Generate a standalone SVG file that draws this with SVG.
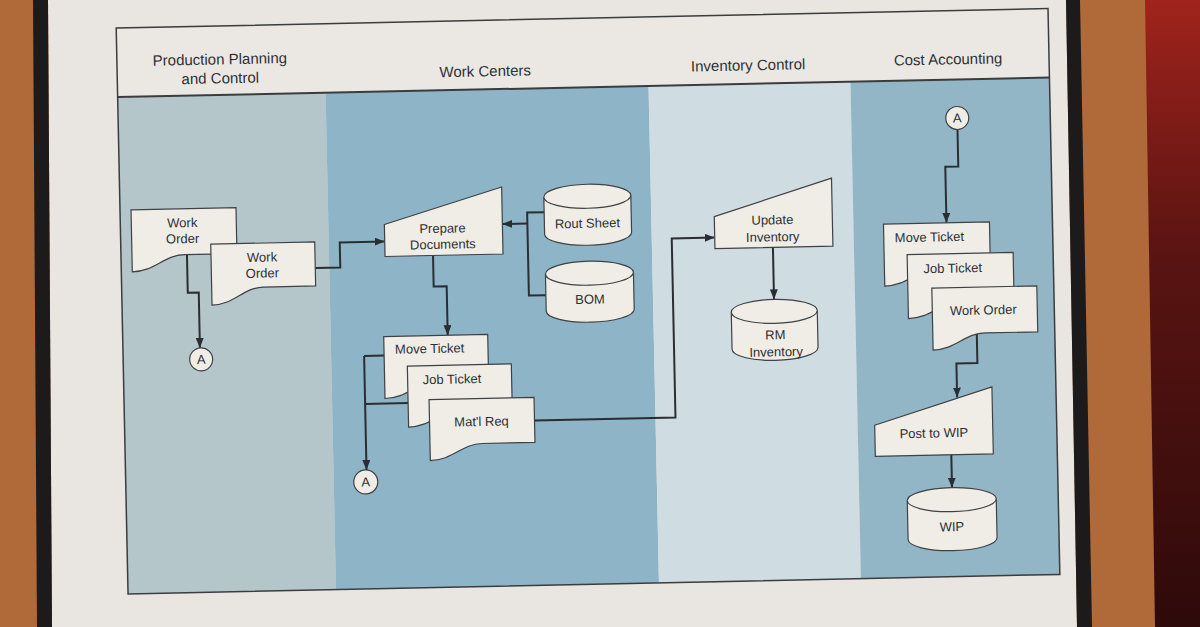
<svg xmlns="http://www.w3.org/2000/svg" width="1200" height="627" viewBox="0 0 1200 627">
<defs>
<marker id="arr" markerUnits="userSpaceOnUse" markerWidth="10" markerHeight="8" refX="10" refY="4" orient="auto">
<path d="M0,0 L10,4 L0,8 Z" fill="#2a2e33"/>
</marker>
<linearGradient id="red" x1="0" y1="0" x2="0" y2="1">
<stop offset="0" stop-color="#a0231c"/>
<stop offset="0.4" stop-color="#5a1412"/>
<stop offset="1" stop-color="#2e0a0a"/>
</linearGradient>
<style>
.node{fill:#efede6;stroke:#3e4246;stroke-width:1.2}
.lbl{font-family:"Liberation Sans",Arial,sans-serif;font-size:13px;fill:#2e3034;text-anchor:middle}
.st{text-anchor:start}
.hdr{font-family:"Liberation Sans",Arial,sans-serif;font-size:15px;fill:#2e3034;text-anchor:middle}
.con{fill:none;stroke:#2a2e33;stroke-width:2}
.arrow{marker-end:url(#arr)}
</style>
</defs>
<!-- background scene -->
<rect x="0" y="0" width="1200" height="627" fill="#b06a3a"/>
<polygon points="1145,0 1200,0 1200,627 1155,627" fill="url(#red)"/>
<polygon points="48,0 1066,0 1077,627 52,627" fill="#e9e6e2"/>
<polygon points="33,0 48,0 52,627 37,627" fill="#1c1a1a"/>
<polygon points="1066,0 1080,0 1092,627 1077,627" fill="#1c1a1a"/>
<g id="diagram" transform="rotate(-1.2 600 300)">
<g id="lanes">
<rect x="122" y="18" width="932" height="69" fill="#ebe8e4"/>
<rect x="122" y="87" width="208" height="497" fill="#b5c6cb"/>
<rect x="330" y="87" width="323" height="497" fill="#8eb4c7"/>
<rect x="653" y="87" width="202" height="497" fill="#cfdce1"/>
<rect x="855" y="87" width="199" height="497" fill="#93b6c6"/>
<rect x="122" y="18" width="932" height="566" fill="none" stroke="#3a3c3e" stroke-width="1.5"/>
<line x1="122" y1="87" x2="1054" y2="87" stroke="#3a3c3e" stroke-width="2"/>
<text class="hdr" x="225" y="56.5">Production Planning</text>
<text class="hdr" x="225" y="75.5">and Control</text>
<text class="hdr" x="490" y="74">Work Centers</text>
<text class="hdr" x="753" y="73.5">Inventory Control</text>
<text class="hdr" x="953" y="71.8">Cost Accounting</text>
</g>
<g id="connectors">
<path class="con arrow" d="M188,246 V284 H199 V339.5"/>
<path class="con arrow" d="M316,262 H341 V237 H386"/>
<path class="con arrow" d="M434,252 V283 H447 V332"/>
<path class="con" d="M546,211 H529 V294 H546"/>
<path class="con arrow" d="M529,222 H504"/>
<path class="con arrow" d="M532,419 H673 V240 H716"/>
<path class="con arrow" d="M774,251 V303"/>
<path class="con" d="M383,351 H363"/>
<path class="con" d="M406,399 H363"/>
<path class="con arrow" d="M363,351 V465"/>
<path class="con arrow" d="M961,137 V174 H948 V230"/>
<path class="con arrow" d="M976,342 V371 H955 V405"/>
<path class="con arrow" d="M948,462 V495"/>
</g>
<g id="ppc-work-order-1">
<path class="node" d="M133,200 H238 V246 H185.5 C164.5,246 156,262 133,262 Z"/>
<text class="lbl" x="184" y="218.5">Work</text>
<text class="lbl" x="184" y="234.5">Order</text>
</g>
<g id="ppc-work-order-2">
<path class="node" d="M212,236 H316 V280 H264 C243,280 235,297 212,297 Z"/>
<text class="lbl" x="263" y="254.5">Work</text>
<text class="lbl" x="263" y="270.5">Order</text>
</g>
<g id="ppc-connector-a">
<circle class="node" cx="200" cy="351" r="11.5"/>
<text class="lbl" x="200" y="355.5">A</text>
</g>
<g id="prepare-documents">
<polygon class="node" points="386,220 504,185 504,252 386,252"/>
<text class="lbl" x="444" y="229.5">Prepare</text>
<text class="lbl" x="444" y="245.5">Documents</text>
</g>
<g id="rout-sheet">
<path class="node" d="M546,196 A43.5,12 0 0 1 633,196 V233 A43.5,12 0 0 1 546,233 Z"/>
<path class="node" fill="none" d="M546,196 A43.5,12 0 0 0 633,196"/>
<text class="lbl" x="589" y="227.5">Rout Sheet</text>
</g>
<g id="bom">
<path class="node" d="M546,273 A44,12 0 0 1 634,273 V310 A44,12 0 0 1 546,310 Z"/>
<path class="node" fill="none" d="M546,273 A44,12 0 0 0 634,273"/>
<text class="lbl" x="590" y="303.5">BOM</text>
</g>
<g id="wc-move-ticket">
<path class="node" d="M383,332 H487 V378 H435 C414,378 406,394 383,394 Z"/>
<text class="lbl st" x="394" y="349.5">Move Ticket</text>
</g>
<g id="wc-job-ticket">
<path class="node" d="M406,362 H510 V407 H458 C437,407 429,423 406,423 Z"/>
<text class="lbl st" x="421" y="380.5">Job Ticket</text>
</g>
<g id="wc-matl-req">
<path class="node" d="M427,396 H532 V441 H479.5 C458,441 450,457 427,457 Z"/>
<text class="lbl" x="479" y="423.5">Mat'l Req</text>
</g>
<g id="wc-connector-a">
<circle class="node" cx="362" cy="477" r="12"/>
<text class="lbl" x="362" y="481.5">A</text>
</g>
<g id="update-inventory">
<polygon class="node" points="716,219 834,183 834,251 716,251"/>
<text class="lbl" x="774" y="228">Update</text>
<text class="lbl" x="774" y="245">Inventory</text>
</g>
<g id="rm-inventory">
<path class="node" d="M731,315 A43,12 0 0 1 817,315 V352 A43,12 0 0 1 731,352 Z"/>
<path class="node" fill="none" d="M731,315 A43,12 0 0 0 817,315"/>
<text class="lbl" x="774.5" y="343">RM</text>
<text class="lbl" x="775" y="360">Inventory</text>
</g>
<g id="ca-connector-a">
<circle class="node" cx="961" cy="125.5" r="11.5"/>
<text class="lbl" x="961" y="130">A</text>
</g>
<g id="ca-move-ticket">
<path class="node" d="M885,230 H991 V276 H938 C917,276 908,292 885,292 Z"/>
<text class="lbl st" x="896" y="248.5">Move Ticket</text>
</g>
<g id="ca-job-ticket">
<path class="node" d="M908,261 H1014 V309 H961 C940,309 931,325 908,325 Z"/>
<text class="lbl st" x="924" y="280">Job Ticket</text>
</g>
<g id="ca-work-order">
<path class="node" d="M932,295 H1037 V341 H984.5 C963,341 955,357 932,357 Z"/>
<text class="lbl" x="983" y="322.5">Work Order</text>
</g>
<g id="post-to-wip">
<polygon class="node" points="872,431 990,395 990,462 872,462"/>
<text class="lbl" x="931" y="444.5">Post to WIP</text>
</g>
<g id="wip">
<path class="node" d="M903,507 A44.5,12 0 0 1 992,507 V546 A44.5,12 0 0 1 903,546 Z"/>
<path class="node" fill="none" d="M903,507 A44.5,12 0 0 0 992,507"/>
<text class="lbl" x="947" y="538.5">WIP</text>
</g>
</g>
</svg>
